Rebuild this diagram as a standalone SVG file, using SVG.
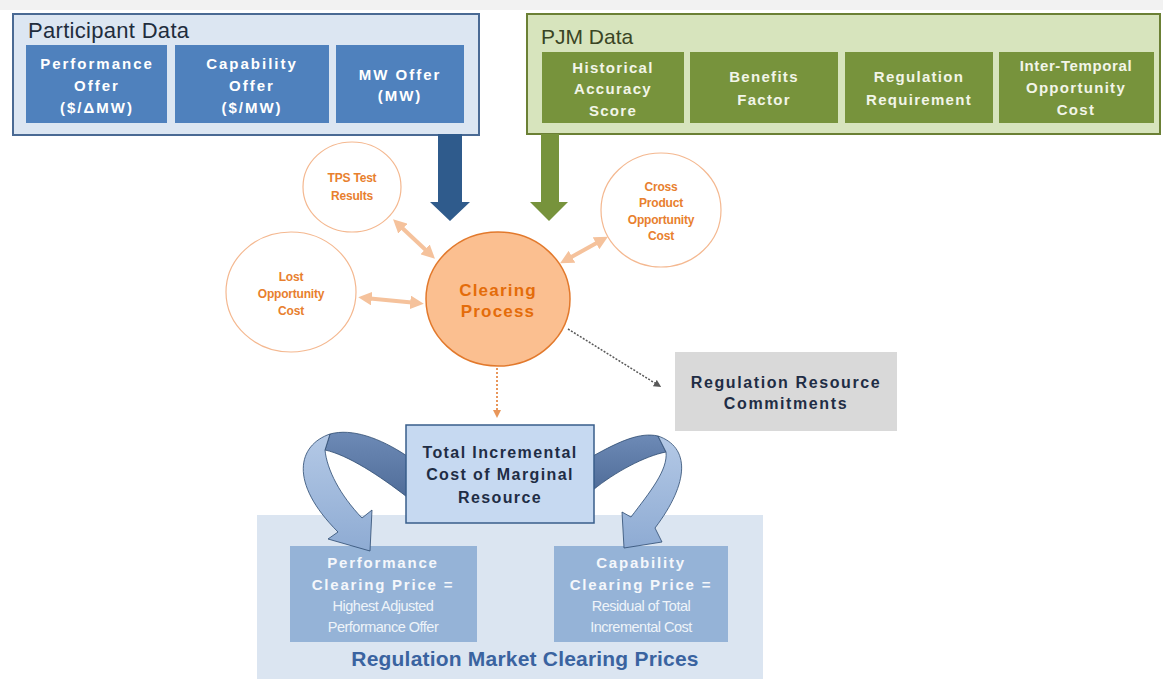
<svg xmlns="http://www.w3.org/2000/svg" width="1163" height="682" viewBox="0 0 1163 682">
<defs>
<style>
text{font-family:"Liberation Sans",Arial,sans-serif;text-anchor:middle;dominant-baseline:central}
.pt{fill:#ffffff;font-weight:bold;font-size:15px;letter-spacing:2px}
.gt{fill:#f2f5e8;font-weight:bold;font-size:15px;letter-spacing:1.3px}
.ot{fill:#e8802e;font-weight:bold;font-size:12px;letter-spacing:-0.2px}
.dk{fill:#1f2d45;font-weight:bold;font-size:16px;letter-spacing:1.4px}
.wt{fill:#f4f7fb;font-weight:bold;font-size:15px;letter-spacing:1.8px}
.ws{fill:#eef3f9;font-size:14.5px;letter-spacing:-0.5px}
.sc{fill:#ffffff;stroke:#f4b890;stroke-width:1.2}
.dbl{stroke:#f5c29c;stroke-width:4;fill:none;marker-start:url(#oh);marker-end:url(#oh)}
</style>
<marker id="oh" viewBox="0 0 10 10" refX="5" refY="5" markerWidth="3.4" markerHeight="3.4" orient="auto-start-reverse" markerUnits="strokeWidth">
<path d="M0,0 L10,5 L0,10 z" fill="#f5c29c"/>
</marker>
<marker id="gh" viewBox="0 0 10 10" refX="5" refY="5" markerWidth="5" markerHeight="5" orient="auto" markerUnits="strokeWidth">
<path d="M0,0 L10,5 L0,10 z" fill="#595959"/>
</marker>
<marker id="orh" viewBox="0 0 10 10" refX="5" refY="5" markerWidth="4" markerHeight="4" orient="auto" markerUnits="strokeWidth">
<path d="M0,0 L10,5 L0,10 z" fill="#e8965a"/>
</marker>
<linearGradient id="lb" x1="0" y1="0" x2="0" y2="1">
<stop offset="0" stop-color="#b4c9e6"/>
<stop offset="1" stop-color="#8eabd3"/>
</linearGradient>
<linearGradient id="db" x1="0" y1="0" x2="0" y2="1">
<stop offset="0" stop-color="#6d8ab6"/>
<stop offset="1" stop-color="#506d99"/>
</linearGradient>
</defs>
<rect x="0" y="0" width="1163" height="682" fill="#ffffff"/>
<rect x="0" y="0" width="1163" height="10" fill="#f2f2f2"/>

<g id="participant-data">
<rect x="13" y="14" width="466" height="121" fill="#dce6f2" stroke="#4a6a94" stroke-width="2"/>
<text x="28" y="30" style="text-anchor:start;font-size:22px;fill:#1f2d3d;letter-spacing:0.3px">Participant Data</text>
<rect x="26" y="45" width="141" height="78" fill="#4f81bd"/>
<text class="pt" x="97" y="63">Performance</text>
<text class="pt" x="97" y="85">Offer</text>
<text class="pt" x="97" y="107">($/ΔMW)</text>
<rect x="175" y="45" width="154" height="78" fill="#4f81bd"/>
<text class="pt" x="252" y="63">Capability</text>
<text class="pt" x="252" y="85">Offer</text>
<text class="pt" x="252" y="107">($/MW)</text>
<rect x="336" y="45" width="128" height="78" fill="#4f81bd"/>
<text class="pt" x="400" y="74">MW Offer</text>
<text class="pt" x="400" y="95">(MW)</text>
</g>

<g id="pjm-data">
<rect x="527" y="14" width="633" height="120" fill="#d7e4bd" stroke="#6b8035" stroke-width="2"/>
<text x="541" y="36" style="text-anchor:start;font-size:21px;fill:#3a4524;letter-spacing:0px">PJM Data</text>
<rect x="542" y="52" width="142" height="71" fill="#77933c"/>
<text class="gt" x="613" y="67">Historical</text>
<text class="gt" x="613" y="88">Accuracy</text>
<text class="gt" x="613" y="110">Score</text>
<rect x="690" y="52" width="148" height="71" fill="#77933c"/>
<text class="gt" x="764" y="76">Benefits</text>
<text class="gt" x="764" y="99">Factor</text>
<rect x="845" y="52" width="148" height="71" fill="#77933c"/>
<text class="gt" x="919" y="76">Regulation</text>
<text class="gt" x="919" y="99">Requirement</text>
<rect x="999" y="52" width="155" height="71" fill="#77933c"/>
<text class="gt" x="1076" y="65" style="letter-spacing:0.6px">Inter-Temporal</text>
<text class="gt" x="1076" y="87">Opportunity</text>
<text class="gt" x="1076" y="109">Cost</text>
</g>

<g id="tps-test-results">
<ellipse class="sc" cx="352" cy="187" rx="49" ry="45"/>
<text class="ot" x="352" y="178">TPS Test</text>
<text class="ot" x="352" y="196">Results</text>
</g>

<g id="lost-opportunity-cost">
<ellipse class="sc" cx="291" cy="292" rx="65" ry="60"/>
<text class="ot" x="291" y="277">Lost</text>
<text class="ot" x="291" y="294">Opportunity</text>
<text class="ot" x="291" y="311">Cost</text>
</g>

<g id="cross-product-opportunity-cost">
<ellipse class="sc" cx="661" cy="210" rx="60" ry="57"/>
<text class="ot" x="661" y="187">Cross</text>
<text class="ot" x="661" y="203">Product</text>
<text class="ot" x="661" y="220">Opportunity</text>
<text class="ot" x="661" y="236">Cost</text>
</g>

<g id="clearing-process">
<ellipse cx="498" cy="299" rx="72" ry="67" fill="#fbbf90" stroke="#e2792c" stroke-width="1.5"/>
<text x="498" y="290" style="fill:#e46c0a;font-weight:bold;font-size:17px;letter-spacing:1.2px">Clearing</text>
<text x="498" y="311" style="fill:#e46c0a;font-weight:bold;font-size:17px;letter-spacing:1.2px">Process</text>
</g>

<g id="regulation-resource-commitments">
<rect x="675" y="352" width="222" height="79" fill="#d9d9d9"/>
<text class="dk" x="786" y="382" style="letter-spacing:1.6px">Regulation Resource</text>
<text class="dk" x="786" y="403" style="letter-spacing:1.6px">Commitments</text>
</g>

<g id="regulation-market-clearing-prices">
<rect x="257" y="515" width="506" height="164" fill="#dbe5f1"/>
<text x="525" y="658" style="fill:#3a63a0;font-weight:bold;font-size:21px;letter-spacing:0.2px">Regulation Market Clearing Prices</text>
</g>

<g id="performance-clearing-price">
<rect x="290" y="546" width="187" height="96" fill="#95b3d7"/>
<text class="wt" x="383" y="562">Performance</text>
<text class="wt" x="383" y="584">Clearing Price =</text>
<text class="ws" x="383" y="606">Highest Adjusted</text>
<text class="ws" x="383" y="627">Performance Offer</text>
</g>

<g id="capability-clearing-price">
<rect x="554" y="546" width="174" height="96" fill="#95b3d7"/>
<text class="wt" x="641" y="562">Capability</text>
<text class="wt" x="641" y="584">Clearing Price =</text>
<text class="ws" x="641" y="606">Residual of Total</text>
<text class="ws" x="641" y="627">Incremental Cost</text>
</g>

<g id="connectors">
<path d="M438,134 L462,134 L462,202 L470,202 L450,221 L430,202 L438,202 Z" fill="#2f5b8c"/>
<path d="M541,134 L559,134 L559,202 L568,202 L549,221 L530,202 L541,202 Z" fill="#77933c"/>
<line class="dbl" x1="398" y1="224" x2="430" y2="254"/>
<line class="dbl" x1="365" y1="298" x2="417" y2="303"/>
<line class="dbl" x1="566" y1="260" x2="602" y2="240"/>
<line x1="568" y1="329" x2="658" y2="385" stroke="#595959" stroke-width="1.5" stroke-dasharray="2 1.5" marker-end="url(#gh)"/>
<line x1="497" y1="368" x2="497" y2="414" stroke="#e8965a" stroke-width="2" stroke-dasharray="2 2" marker-end="url(#orh)"/>
<path d="M407,456 C380,438 352,428 330,434 L325,450 C348,455 380,476 407,497 Z" fill="url(#db)" stroke="#2c4a70" stroke-width="0.8"/>
<path d="M330,434 C298,445 288,482 338,532 L328,539 L370,551 L372,510 L362,518 C340,495 327,470 325,450 Z" fill="url(#lb)" stroke="#2c4a70" stroke-width="0.8"/>
<path d="M593,456 C620,441 640,432 658,436 L666,452 C645,456 615,472 593,490 Z" fill="url(#db)" stroke="#2c4a70" stroke-width="0.8"/>
<path d="M658,436 C690,447 690,482 655,528 L662,542 L624,548 L622,512 L631,517 C650,492 668,470 666,452 Z" fill="url(#lb)" stroke="#2c4a70" stroke-width="0.8"/>
</g>

<g id="total-incremental-cost">
<rect x="406" y="425" width="188" height="98" fill="#c6d9f1" stroke="#385d8a" stroke-width="1.5"/>
<text class="dk" x="500" y="452">Total Incremental</text>
<text class="dk" x="500" y="474">Cost of Marginal</text>
<text class="dk" x="500" y="497">Resource</text>
</g>
</svg>
